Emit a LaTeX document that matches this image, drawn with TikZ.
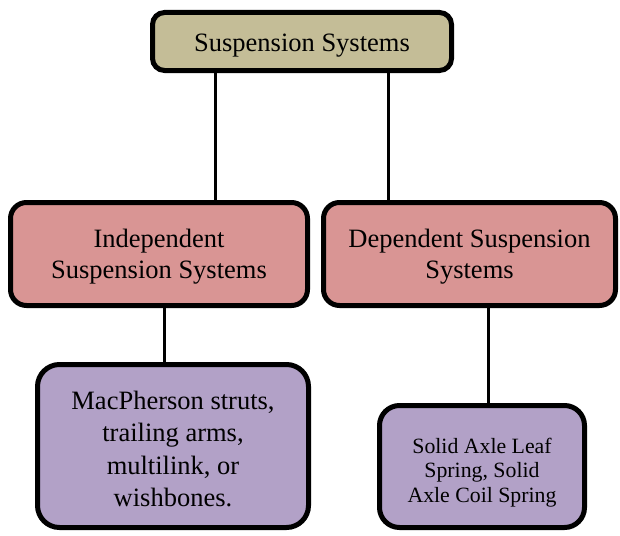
\documentclass[tikz,border=0pt]{standalone}
\usepackage{fontspec}
\setmainfont{Liberation Serif}
\definecolor{tanfill}{HTML}{C4BD97}
\definecolor{pinkfill}{HTML}{D99594}
\definecolor{purplefill}{HTML}{B2A1C7}
\newcommand{\lift}[1]{\rule{0pt}{#1pt}}
\begin{document}
\begin{tikzpicture}[x=1pt,y=-1pt,
  box/.style={draw=black,line width=5pt,rounded corners=#1,inner sep=0pt,align=center,
    font=\fontsize{26.5}{31}\selectfont},
  box/.default=14pt,
  conn/.style={line width=3pt}]
\useasboundingbox (0,0) rectangle (620,535);
\node[box=12pt,fill=tanfill,minimum width=299pt,minimum height=58pt] (top) at (302,41.5) {\lift{26}Suspension Systems};
\node[box=16pt,fill=pinkfill,minimum width=297pt,minimum height=103pt] (indep) at (159,254) {\lift{24.5}Independent\\Suspension Systems};
\node[box=16pt,fill=pinkfill,minimum width=292pt,minimum height=103pt] (dep) at (469.5,254) {\lift{24.5}Dependent Suspension\\Systems};
\node[box=22pt,fill=purplefill,minimum width=271pt,minimum height=163pt,
  font=\fontsize{26.5}{32.5}\selectfont] (mac) at (173,446) {\lift{24.5}MacPherson struts,\\trailing arms,\\multilink, or\\wishbones.};
\node[box=20pt,fill=purplefill,minimum width=205pt,minimum height=122pt,
  font=\fontsize{21.8}{24.5}\selectfont] (solid) at (482,466.5) {\lift{27}Solid Axle Leaf\\Spring, Solid\\Axle Coil Spring};
\coordinate (c1) at (215,0);
\coordinate (c2) at (388,0);
\coordinate (c3) at (164,0);
\coordinate (c4) at (488,0);
\draw[conn] (top.south -| c1) -- (indep.north -| c1);
\draw[conn] (top.south -| c2) -- (dep.north -| c2);
\draw[conn] (indep.south -| c3) -- (mac.north -| c3);
\draw[conn] (dep.south -| c4) -- (solid.north -| c4);
\end{tikzpicture}
\end{document}
